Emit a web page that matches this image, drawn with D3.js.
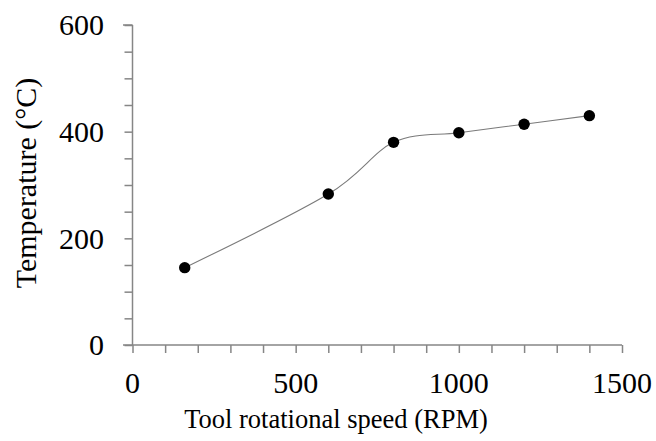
<!DOCTYPE html>
<html>
<head>
<meta charset="utf-8">
<script src="https://cdn.jsdelivr.net/npm/d3@7"></script>
<style>
  body { margin: 0; background: #fff; }
  text { font-family: "Liberation Serif", "Times New Roman", serif; fill: #000; }
</style>
</head>
<body>
<div id="chart"></div>
<script>
// data
const speeds = [160, 600, 800, 1000, 1200, 1400];
const temps = [145, 283, 380, 398, 414, 430];

// axis ticks
const xLabelTicks = [0, 500, 1000, 1500];
const xMinorTicks = d3.range(0, 1501, 100);
const yLabelTicks = [0, 200, 400, 600];
const yMinorTicks = d3.range(0, 601, 50);

const width = 656;
const height = 441;
const margin = { top: 25, right: 34, bottom: 96, left: 132.5 };

const svg = d3.select("#chart")
  .append("svg")
  .attr("width", width)
  .attr("height", height);

const x = d3.scaleLinear()
  .domain([0, 1500])
  .range([margin.left, width - margin.right]);

const y = d3.scaleLinear()
  .domain([0, 600])
  .range([height - margin.bottom, margin.top]);

const axisColor = "#868686";

// y axis
const yAxis = svg.append("g")
  .attr("transform", `translate(${margin.left},0)`)
  .call(d3.axisLeft(y).tickValues(yMinorTicks).tickSize(8).tickFormat(""));
yAxis.select(".domain").attr("stroke", axisColor).attr("stroke-width", 1.5)
  .attr("d", `M0,${y(600)}H-9.5M0,${y(600)}V${y(0)}`);
yAxis.selectAll(".tick line").attr("stroke", axisColor).attr("stroke-width", 1.5);

svg.append("g")
  .selectAll("text")
  .data(yLabelTicks)
  .join("text")
  .attr("x", 104)
  .attr("y", d => y(d))
  .attr("dy", "0.34em")
  .attr("text-anchor", "end")
  .style("font-size", "30px")
  .text(d => d);

// x axis
const xAxis = svg.append("g")
  .attr("transform", `translate(0,${y(0)})`)
  .call(d3.axisBottom(x).tickValues(xMinorTicks).tickSize(8).tickFormat(""));
xAxis.select(".domain").attr("stroke", axisColor).attr("stroke-width", 1.5)
  .attr("d", `M${x(0) - 9.5},0H${x(1500)}`);
xAxis.selectAll(".tick line").attr("stroke", axisColor).attr("stroke-width", 1.5);

svg.append("g")
  .selectAll("text")
  .data(xLabelTicks)
  .join("text")
  .attr("x", d => x(d))
  .attr("y", 393)
  .attr("text-anchor", "middle")
  .style("font-size", "30px")
  .text(d => d);

// axis titles
svg.append("text")
  .attr("x", 336)
  .attr("y", 428)
  .attr("text-anchor", "middle")
  .style("font-size", "26.5px")
  .text("Tool rotational speed (RPM)");

svg.append("text")
  .attr("transform", `translate(36,${183}) rotate(-90)`)
  .attr("text-anchor", "middle")
  .style("font-size", "30px")
  .text("Temperature (°C)");

// smoothed line
const points = speeds.map((s, i) => [s, temps[i]]);

const line = d3.line()
  .x(d => x(d[0]))
  .y(d => y(d[1]))
  .curve(d3.curveCardinal.tension(0));

svg.append("path")
  .datum(points)
  .attr("fill", "none")
  .attr("stroke", "#7a7a7a")
  .attr("stroke-width", 1.1)
  .attr("d", line);

svg.append("g")
  .selectAll("circle")
  .data(points)
  .join("circle")
  .attr("cx", d => x(d[0]))
  .attr("cy", d => y(d[1]))
  .attr("r", 5.7)
  .attr("fill", "#000");
</script>
</body>
</html>
